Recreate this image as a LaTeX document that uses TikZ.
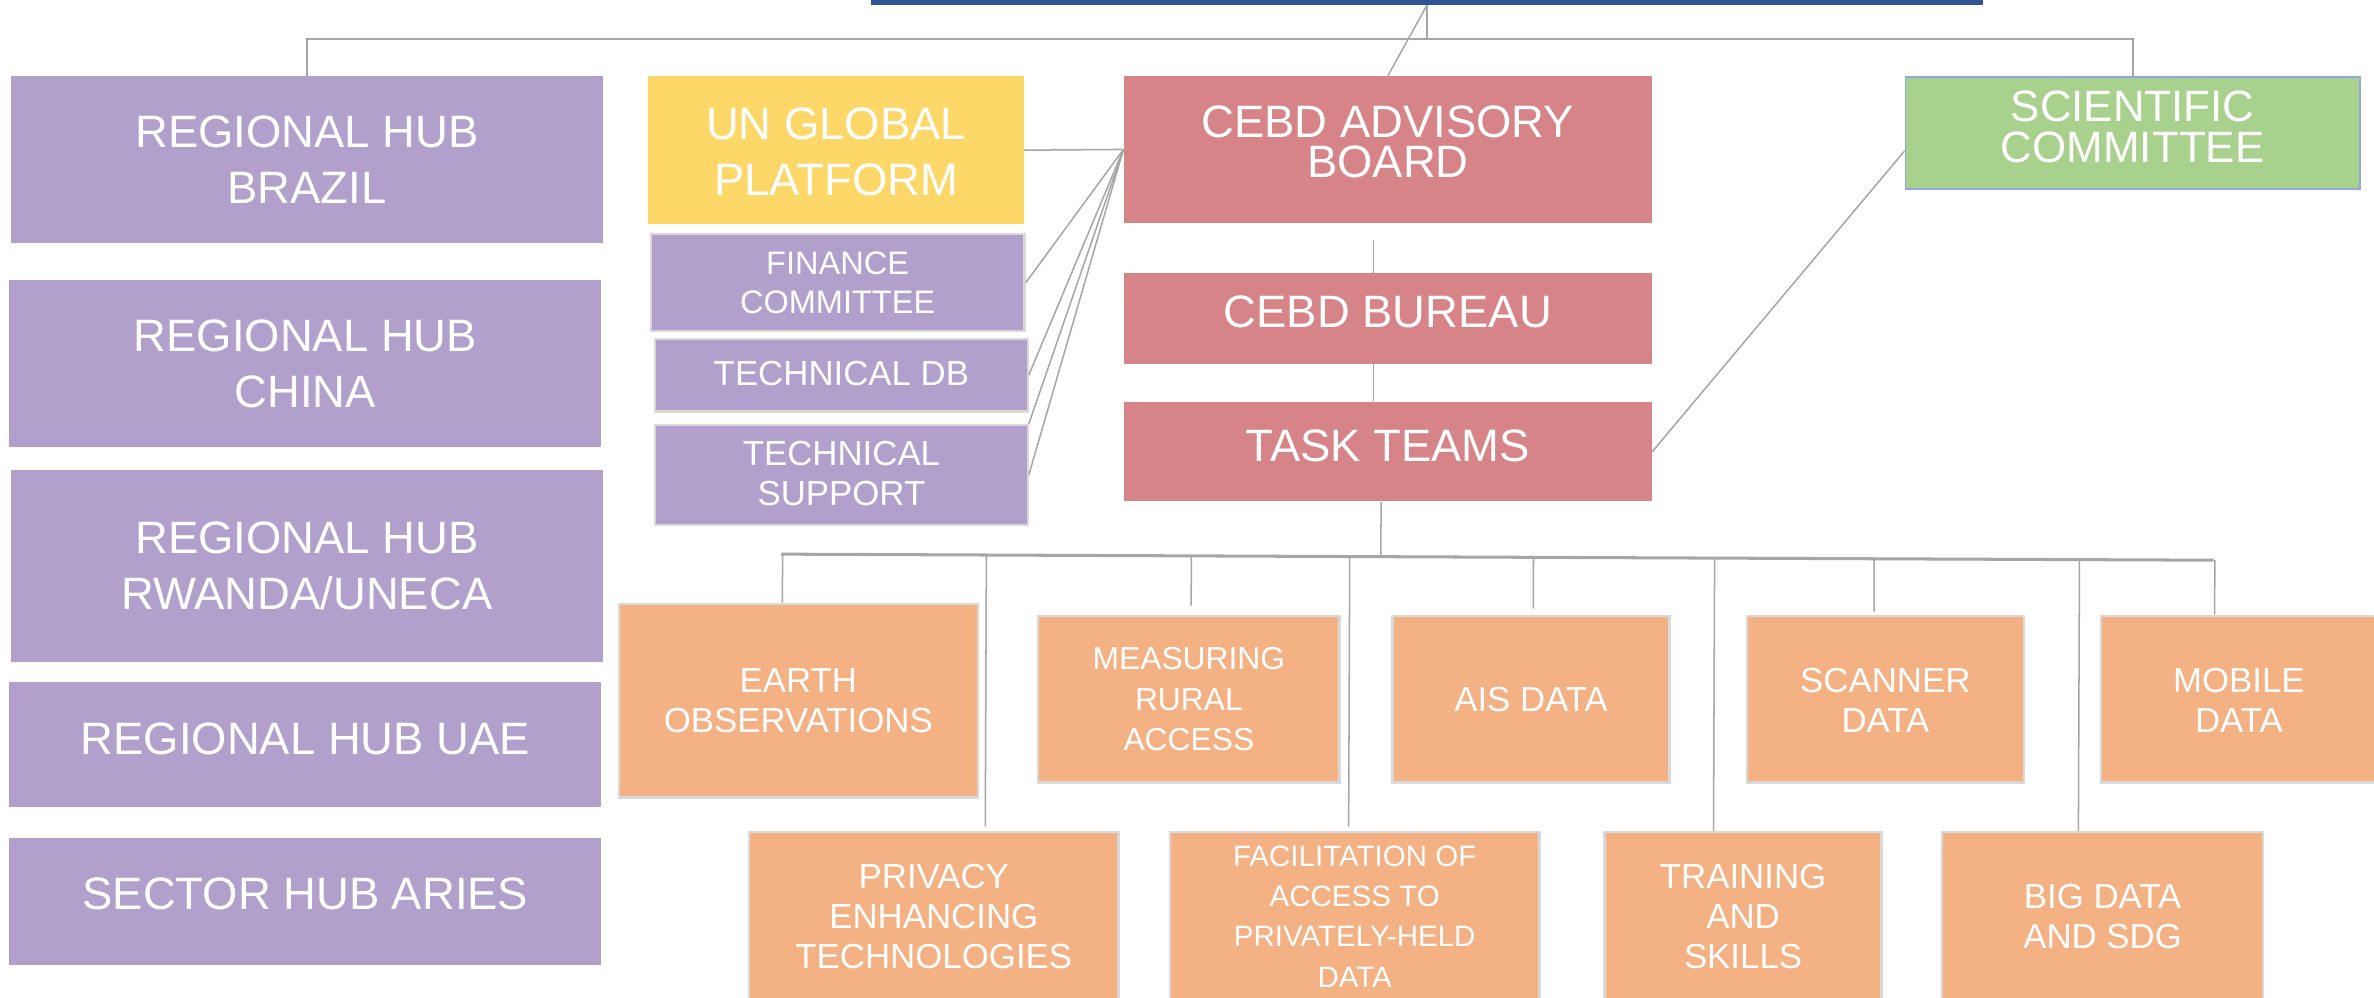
\documentclass[tikz,border=0pt]{standalone}
\usepackage{fontspec}
\setmainfont{Liberation Sans}
\usetikzlibrary{calc}
\definecolor{hubpurple}{HTML}{B1A0CC}
\definecolor{unyellow}{HTML}{FDD767}
\definecolor{cebdred}{HTML}{D68487}
\definecolor{scigreen}{HTML}{A9D18E}
\definecolor{sciborder}{HTML}{8FAADC}
\definecolor{teamorange}{HTML}{F3B184}
\definecolor{topblue}{HTML}{2F5597}
\definecolor{linegray}{HTML}{A6A6A6}
\definecolor{bordergray}{HTML}{D9D9D9}
\newcommand\mybox[9]{%
  \node[#2, minimum width=#5pt, minimum height=#6pt] (#1) at (#3,#4) {};
  \node[txt, #7] (#1-t) at ($(#1.center)+(0,#8)$) {#9};
}
\newcommand\mydrop[3]{%
  \coordinate (#1-d) at ([xshift=#2pt,yshift=#3pt]#1.north);
  \draw[conn] (#1-d) -- ($(busL)!(#1-d)!(busR)$);
}
\begin{document}
\begin{tikzpicture}[x=1pt,y=-1pt,
  base/.style={rectangle, inner sep=0pt, anchor=north west, draw=none},
  hub/.style={base, fill=hubpurple},
  sub/.style={base, fill=hubpurple, draw=bordergray, line width=1.5pt},
  yel/.style={base, fill=unyellow},
  red/.style={base, fill=cebdred},
  grn/.style={base, fill=scigreen, draw=sciborder, line width=1.2pt},
  org/.style={base, fill=teamorange, draw=bordergray, line width=1.5pt},
  txt/.style={inner sep=0pt, text=white, align=center},
  fA/.style={font=\fontsize{30}{37}\selectfont},
  fB/.style={font=\fontsize{30}{27}\selectfont},
  fC/.style={font=\fontsize{29}{27}\selectfont},
  fD/.style={font=\fontsize{21.5}{26}\selectfont},
  fE/.style={font=\fontsize{23}{26.5}\selectfont},
  fF/.style={font=\fontsize{21}{26.5}\selectfont},
  fG/.style={font=\fontsize{19.5}{26.7}\selectfont},
  conn/.style={draw=linegray, line width=1pt},
  bus/.style={draw=linegray, line width=2pt},
]
\useasboundingbox (0,0) rectangle (1568,659);
\fill[white] (0,0) rectangle (1568,659);

% top bar (bottom edge of an element cut off by the frame)
\node[rectangle, inner sep=0pt, fill=topblue, minimum width=735pt, minimum height=3pt, anchor=north] (top) at (942.5,0) {};

% left column: hubs
\mybox{brazil}{hub}{7}{50}{391}{110}{fA}{0}{REGIONAL HUB\\BRAZIL}
\mybox{china}{hub}{6}{185}{391}{110}{fA}{0}{REGIONAL HUB\\CHINA}
\mybox{rwanda}{hub}{7}{310}{391}{127}{fA}{0}{REGIONAL HUB\\RWANDA/UNECA}
\mybox{uae}{hub}{6}{450}{391}{83}{fA}{-4}{REGIONAL HUB UAE}
\mybox{aries}{hub}{6}{553}{391}{84}{fA}{-5}{SECTOR HUB ARIES}

% second column
\mybox{unglobal}{yel}{428}{50}{248}{98}{fA}{1}{UN GLOBAL\\PLATFORM}
\mybox{finance}{sub}{429}{154}{247}{64}{fD}{0}{FINANCE\\COMMITTEE}
\mybox{techdb}{sub}{432}{223}{246}{48}{fE}{-1}{TECHNICAL DB}
\mybox{support}{sub}{432}{280}{246}{66}{fE}{-1}{TECHNICAL\\SUPPORT}

% centre column
\mybox{advisory}{red}{742}{50}{349}{97}{fB}{-5}{CEBD ADVISORY\\BOARD}
\mybox{bureau}{red}{742}{180}{349}{60}{fA}{-4}{CEBD BUREAU}
\mybox{tasks}{red}{742}{265}{349}{66}{fA}{-4}{TASK TEAMS}

% scientific committee
\mybox{sci}{grn}{1258}{50}{300}{74}{fC}{-4}{SCIENTIFIC\\COMMITTEE}

% task teams, upper row
\mybox{earth}{org}{408}{398}{237}{128}{fE}{0}{EARTH\\OBSERVATIONS}
\mybox{measuring}{org}{685}{406}{199}{110}{fF}{0}{MEASURING\\RURAL\\ACCESS}
\mybox{ais}{org}{919}{406}{183}{110}{fE}{0}{AIS DATA}
\mybox{scanner}{org}{1153}{406}{183}{110}{fE}{1}{SCANNER\\DATA}
\mybox{mobile}{org}{1387}{406}{182}{110}{fE}{1}{MOBILE\\DATA}

% task teams, lower row
\mybox{privacy}{org}{494}{549}{244}{111}{fE}{0}{PRIVACY\\ENHANCING\\TECHNOLOGIES}
\mybox{facil}{org}{772}{549}{244}{111}{fG}{0}{FACILITATION OF\\ACCESS TO\\PRIVATELY-HELD\\DATA}
\mybox{training}{org}{1059}{549}{183}{111}{fE}{0}{TRAINING\\AND\\SKILLS}
\mybox{bigdata}{org}{1282}{549}{212}{111}{fE}{0}{BIG DATA\\AND SDG}

% connectors from the top
\coordinate (topbar) at (942.5,26);
\draw[conn] (top.south) -- (advisory.north);
\draw[conn] (top.south) -- (topbar);
\draw[conn, line width=1.4pt] (brazil.north) |- (topbar) -| (sci.north);

% fan from the advisory board
\draw[conn] (advisory.west) -- (unglobal.east);
\draw[conn] (advisory.west) -- (finance.east);
\draw[conn] (advisory.west) -- (techdb.east);
\draw[conn] (advisory.west) -- (support.north east);
\draw[conn] (advisory.west) -- (support.east);

% spine
\draw[conn] ([xshift=-9.5pt,yshift=-11pt]advisory.south) -- ([xshift=-9.5pt]bureau.north);
\draw[conn] ([xshift=-9.5pt]bureau.south) -- ([xshift=-9.5pt]tasks.north);
\draw[conn] (tasks.east) -- ([yshift=-12pt]sci.west);

% bus to the task teams
\coordinate (busL) at (516,366);
\coordinate (busR) at (1462,370);
\draw[bus] (busL) -- (busR);
\coordinate (tt) at ([xshift=-4.5pt]tasks.south);
\draw[conn] (tt) -- ($(busL)!(tt)!(busR)$);
\mydrop{earth}{-10.5}{0}
\mydrop{measuring}{1.5}{6}
\mydrop{ais}{1.5}{4}
\mydrop{scanner}{-7.5}{2}
\mydrop{mobile}{-16}{0}
\mydrop{privacy}{34}{3}
\mydrop{facil}{-4}{3}
\mydrop{training}{-19.5}{0}
\mydrop{bigdata}{-16}{0}
\end{tikzpicture}
\end{document}
